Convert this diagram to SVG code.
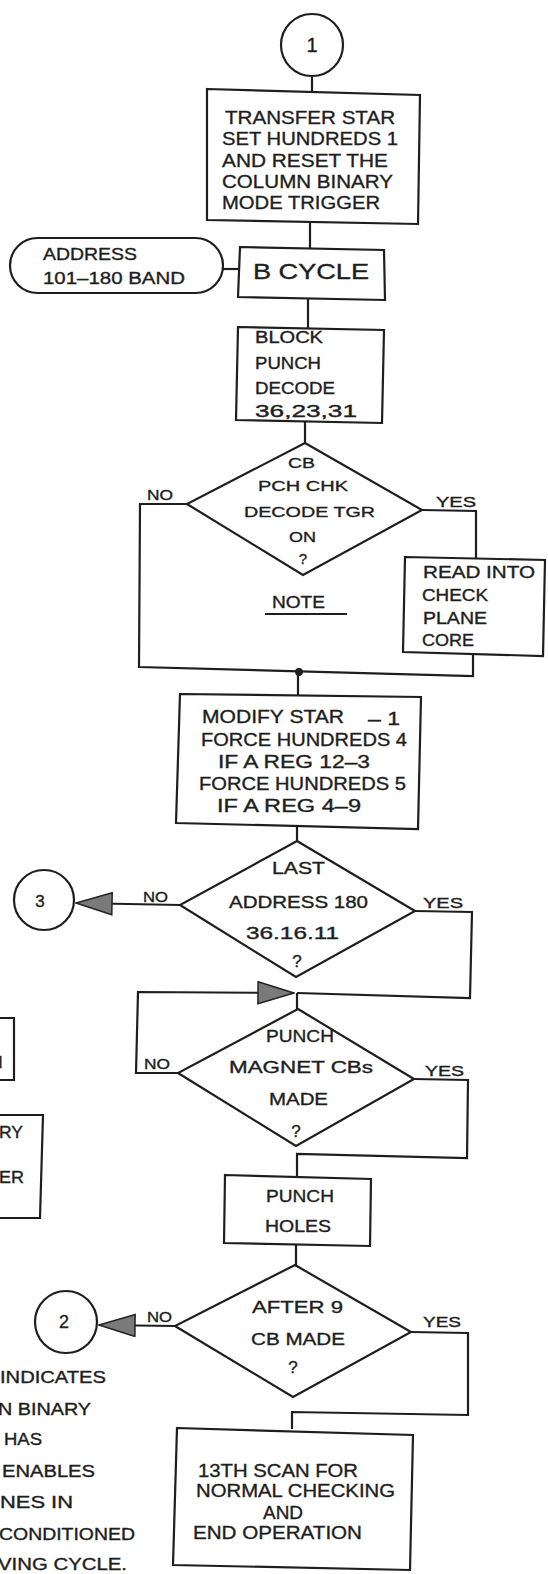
<svg xmlns="http://www.w3.org/2000/svg" width="548" height="1574" viewBox="0 0 548 1574">
<defs>
<style>
.s{fill:none;stroke:#1e1e1e;stroke-width:2.2;stroke-linejoin:miter}
.b{fill:#fff;stroke:#1e1e1e;stroke-width:2.2}
text{font-family:"Liberation Sans",Arial,sans-serif;fill:#1e1e1e;stroke:#1e1e1e;stroke-width:0.35}
.f14{font-size:14px}.f15{font-size:15px}.f16{font-size:16px}.f17{font-size:17px}.f18{font-size:18px}.f19{font-size:19px}.f20{font-size:20px}.f22{font-size:22px}
.m{text-anchor:middle}
</style>
<marker id="ah" viewBox="0 0 38 24" refX="37" refY="12" markerWidth="38" markerHeight="24" markerUnits="userSpaceOnUse" orient="auto">
<path d="M1,1 L37,12 L1,23 Z" fill="#7a7a7a" stroke="#222" stroke-width="1.5"/>
</marker>
</defs>
<rect width="548" height="1574" fill="#fff"/>

<g id="connectors" class="s">
<path d="M312,76 V91"/>
<path d="M310,222 V248"/>
<path d="M223,269 H239"/>
<path d="M308,299 V328"/>
<path d="M305,422 V443"/>
<path d="M187,504 H140 L139,667 L473,676 V654"/>
<path d="M422,510 L476,511 V558"/>
<circle cx="299" cy="672" r="2.8" fill="#1e1e1e"/>
<path d="M298,672 V696"/>
<path d="M297,827 V841"/>
<path d="M180,905 L76,903" marker-end="url(#ah)"/>
<path d="M415,911 L472,912 L470,998 L297,993"/>
<path d="M178,1073 H136 L138,992 L294,993" marker-end="url(#ah)"/>
<path d="M297,993 V1010"/>
<path d="M414,1079 L468,1080 L467,1158 L297,1154 V1176"/>
<path d="M296,1245 V1266"/>
<path d="M175,1326 L99,1325" marker-end="url(#ah)"/>
<path d="M411,1332 L468,1333 V1415 L292,1412 V1429"/>
</g>

<g id="c1">
<circle class="b" cx="312" cy="45" r="31"/>
<text class="f20 m" x="312" y="52">1</text>
</g>

<g id="transfer">
<polygon class="b" points="207,89 420,95 418,224 207,220"/>
<text class="f19" x="225" y="124" textLength="170" lengthAdjust="spacingAndGlyphs">TRANSFER STAR</text>
<text class="f19" x="222" y="145" textLength="176" lengthAdjust="spacingAndGlyphs">SET HUNDREDS 1</text>
<text class="f19" x="222" y="167" textLength="166" lengthAdjust="spacingAndGlyphs">AND RESET THE</text>
<text class="f19" x="222" y="188" textLength="171" lengthAdjust="spacingAndGlyphs">COLUMN BINARY</text>
<text class="f19" x="222" y="209" textLength="158" lengthAdjust="spacingAndGlyphs">MODE TRIGGER</text>
</g>

<g id="address">
<path class="b" d="M37.5,238 A27.5,27.5 0 0 0 37.5,293 H195.5 A27.5,27.5 0 0 0 195.5,238 Z"/>
<text class="f17" x="43" y="260" textLength="94" lengthAdjust="spacingAndGlyphs">ADDRESS</text>
<text class="f17" x="43" y="284" textLength="142" lengthAdjust="spacingAndGlyphs">101–180 BAND</text>
</g>

<g id="bcycle">
<polygon class="b" points="240,247 384,250 385,300 238,297"/>
<text class="f22" x="253" y="279" textLength="116" lengthAdjust="spacingAndGlyphs">B CYCLE</text>
</g>

<g id="block">
<polygon class="b" points="238,327 384,330 382,423 236,420"/>
<text class="f16" x="255" y="343" textLength="68" lengthAdjust="spacingAndGlyphs">BLOCK</text>
<text class="f16" x="255" y="369" textLength="66" lengthAdjust="spacingAndGlyphs">PUNCH</text>
<text class="f16" x="255" y="394" textLength="80" lengthAdjust="spacingAndGlyphs">DECODE</text>
<text class="f16" x="255" y="417" textLength="102" lengthAdjust="spacingAndGlyphs">36,23,31</text>
</g>

<g id="cbdecision">
<polygon class="b" points="305,443 422,510 303,575 187,504"/>
<text class="f15" x="288" y="468" textLength="27" lengthAdjust="spacingAndGlyphs">CB</text>
<text class="f15" x="258" y="491" textLength="90" lengthAdjust="spacingAndGlyphs">PCH CHK</text>
<text class="f15" x="244" y="517" textLength="131" lengthAdjust="spacingAndGlyphs">DECODE TGR</text>
<text class="f15" x="289" y="542" textLength="27" lengthAdjust="spacingAndGlyphs">ON</text>
<text class="f15 m" x="303" y="564">?</text>
<text class="f14" x="147" y="500" textLength="26" lengthAdjust="spacingAndGlyphs">NO</text>
<text class="f14" x="436" y="507" textLength="40" lengthAdjust="spacingAndGlyphs">YES</text>
</g>

<g id="readinto">
<polygon class="b" points="405,557 545,560 543,656 403,652"/>
<text class="f16" x="423" y="578" textLength="112" lengthAdjust="spacingAndGlyphs">READ INTO</text>
<text class="f16" x="422" y="601" textLength="66" lengthAdjust="spacingAndGlyphs">CHECK</text>
<text class="f16" x="423" y="624" textLength="64" lengthAdjust="spacingAndGlyphs">PLANE</text>
<text class="f16" x="422" y="646" textLength="52" lengthAdjust="spacingAndGlyphs">CORE</text>
</g>

<g id="note">
<text class="f16" x="272" y="608" textLength="53" lengthAdjust="spacingAndGlyphs">NOTE</text>
<path class="s" d="M265,614 H347"/>
</g>

<g id="modify">
<polygon class="b" points="180,694 421,697 418,829 176,823"/>
<text class="f18" x="202" y="723" textLength="142" lengthAdjust="spacingAndGlyphs">MODIFY STAR</text>
<text class="f18" x="368" y="725" textLength="32" lengthAdjust="spacingAndGlyphs">– 1</text>
<text class="f18" x="201" y="746" textLength="206" lengthAdjust="spacingAndGlyphs">FORCE HUNDREDS 4</text>
<text class="f18" x="218" y="768" textLength="152" lengthAdjust="spacingAndGlyphs">IF A REG 12–3</text>
<text class="f18" x="199" y="790" textLength="207" lengthAdjust="spacingAndGlyphs">FORCE HUNDREDS 5</text>
<text class="f18" x="217" y="812" textLength="144" lengthAdjust="spacingAndGlyphs">IF A REG 4–9</text>
</g>

<g id="lastaddress">
<polygon class="b" points="297,841 415,911 296,977 180,905"/>
<text class="f17" x="272" y="874" textLength="53" lengthAdjust="spacingAndGlyphs">LAST</text>
<text class="f17" x="229" y="908" textLength="139" lengthAdjust="spacingAndGlyphs">ADDRESS 180</text>
<text class="f17" x="246" y="939" textLength="93" lengthAdjust="spacingAndGlyphs">36.16.11</text>
<text class="f17 m" x="297" y="967">?</text>
<text class="f14" x="143" y="902" textLength="25" lengthAdjust="spacingAndGlyphs">NO</text>
<text class="f14" x="423" y="908" textLength="40" lengthAdjust="spacingAndGlyphs">YES</text>
</g>

<g id="c3">
<circle class="b" cx="44" cy="900" r="30"/>
<text class="f17 m" x="40" y="907">3</text>
</g>

<g id="punchmagnet">
<polygon class="b" points="298,1009 414,1079 296,1146 178,1073"/>
<text class="f17" x="266" y="1042" textLength="68" lengthAdjust="spacingAndGlyphs">PUNCH</text>
<text class="f17" x="229" y="1073" textLength="144" lengthAdjust="spacingAndGlyphs">MAGNET CBs</text>
<text class="f17" x="269" y="1105" textLength="59" lengthAdjust="spacingAndGlyphs">MADE</text>
<text class="f17 m" x="296" y="1137">?</text>
<text class="f14" x="144" y="1069" textLength="26" lengthAdjust="spacingAndGlyphs">NO</text>
<text class="f14" x="425" y="1076" textLength="39" lengthAdjust="spacingAndGlyphs">YES</text>
</g>

<g id="punchholes">
<polygon class="b" points="225,1175 371,1179 370,1246 224,1243"/>
<text class="f17" x="266" y="1202" textLength="68" lengthAdjust="spacingAndGlyphs">PUNCH</text>
<text class="f17" x="265" y="1232" textLength="66" lengthAdjust="spacingAndGlyphs">HOLES</text>
</g>

<g id="after9">
<polygon class="b" points="295,1265 411,1332 293,1397 175,1326"/>
<text class="f17" x="252" y="1313" textLength="91" lengthAdjust="spacingAndGlyphs">AFTER 9</text>
<text class="f17" x="251" y="1345" textLength="94" lengthAdjust="spacingAndGlyphs">CB MADE</text>
<text class="f17 m" x="293" y="1373">?</text>
<text class="f14" x="147" y="1322" textLength="25" lengthAdjust="spacingAndGlyphs">NO</text>
<text class="f14" x="423" y="1327" textLength="38" lengthAdjust="spacingAndGlyphs">YES</text>
</g>

<g id="c2">
<circle class="b" cx="66" cy="1322" r="31"/>
<text class="f18 m" x="64" y="1328">2</text>
</g>

<g id="scan13">
<polygon class="b" points="177,1428 413,1435 410,1570 173,1565"/>
<text class="f18" x="198" y="1477" textLength="160" lengthAdjust="spacingAndGlyphs">13TH SCAN FOR</text>
<text class="f18" x="196" y="1497" textLength="199" lengthAdjust="spacingAndGlyphs">NORMAL CHECKING</text>
<text class="f18" x="263" y="1519" textLength="40" lengthAdjust="spacingAndGlyphs">AND</text>
<text class="f18" x="193" y="1539" textLength="169" lengthAdjust="spacingAndGlyphs">END OPERATION</text>
</g>

<g id="notetext">
<text class="f16" x="0" y="1383" textLength="106" lengthAdjust="spacingAndGlyphs">INDICATES</text>
<text class="f16" x="-2" y="1415" textLength="93" lengthAdjust="spacingAndGlyphs">N BINARY</text>
<text class="f16" x="4" y="1445" textLength="38" lengthAdjust="spacingAndGlyphs">HAS</text>
<text class="f16" x="2" y="1477" textLength="93" lengthAdjust="spacingAndGlyphs">ENABLES</text>
<text class="f16" x="0" y="1508" textLength="73" lengthAdjust="spacingAndGlyphs">NES IN</text>
<text class="f16" x="-1" y="1540" textLength="136" lengthAdjust="spacingAndGlyphs">CONDITIONED</text>
<text class="f16" x="-2" y="1570" textLength="129" lengthAdjust="spacingAndGlyphs">VING CYCLE.</text>
</g>

<g id="leftbox1">
<path class="s" d="M0,1018 H14 V1080 H0"/>
<text class="f16" x="-9" y="1068">H</text>
</g>

<g id="leftbox2">
<path class="s" d="M0,1115 H43 L40,1218 H0"/>
<text class="f16" x="-1" y="1138" textLength="24" lengthAdjust="spacingAndGlyphs">RY</text>
<text class="f16" x="-1" y="1183" textLength="25" lengthAdjust="spacingAndGlyphs">ER</text>
</g>
</svg>
